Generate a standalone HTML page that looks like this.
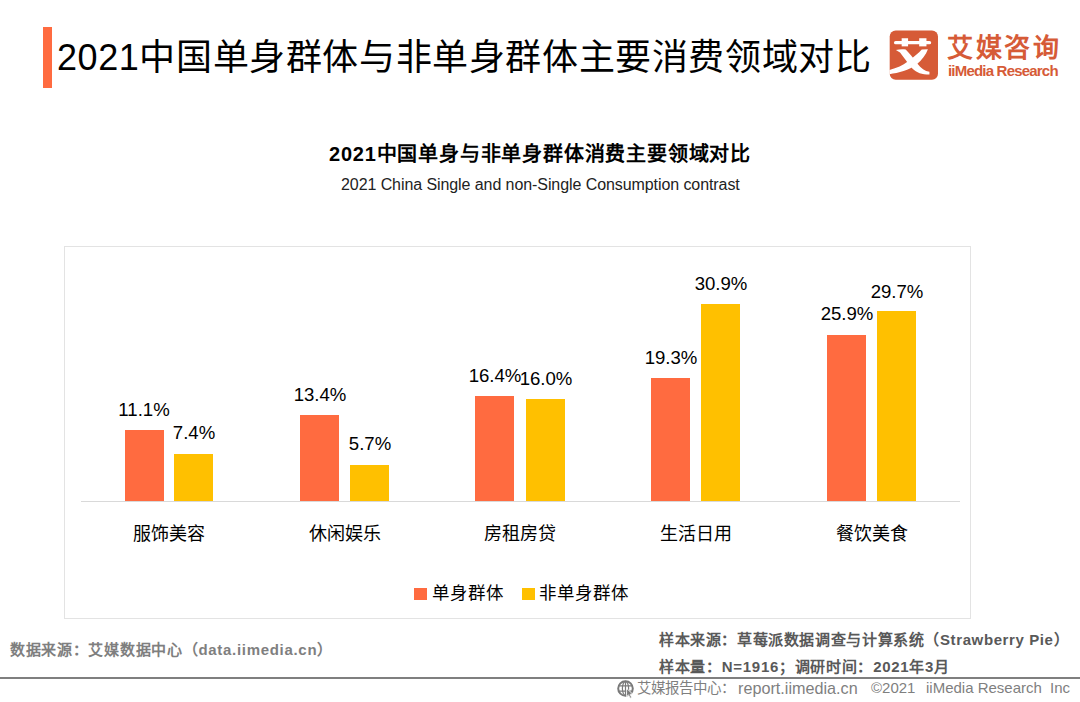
<!DOCTYPE html>
<html lang="zh-CN">
<head>
<meta charset="utf-8">
<style>
html,body{margin:0;padding:0;background:#fff;}
body{width:1080px;height:702px;position:relative;overflow:hidden;font-family:"Liberation Sans",sans-serif;color:#000;}
.a{position:absolute;white-space:nowrap;}
#bar{left:43px;top:27px;width:9px;height:61px;background:#ff6b40;}
#h1{left:57px;top:32px;font-size:36px;line-height:52px;color:#000;letter-spacing:0.6px;}
#logo{left:885px;top:25px;width:60px;height:60px;}
#lg1{left:947px;top:33px;font-size:26px;line-height:30px;color:#d65b37;font-weight:bold;letter-spacing:2.7px;}
#lg2{left:948px;top:61px;font-size:15px;line-height:20px;color:#d65b37;font-weight:bold;letter-spacing:-0.8px;}
#t1{left:329px;top:140px;font-size:20px;line-height:28px;font-weight:bold;color:#000;letter-spacing:0.8px;}
#t2{left:341px;top:174px;font-size:16px;line-height:22px;color:#222;letter-spacing:-0.08px;}
#box{left:64px;top:246px;width:905px;height:371px;border:1px solid #e3e3e3;}
#axis{left:81px;top:501px;width:879px;height:1px;background:#d9d9d9;}
.b{position:absolute;bottom:201px;width:39px;}
.o{background:#ff6b40;}
.y{background:#ffc000;}
.v{position:absolute;font-size:18.6px;line-height:20px;color:#000;text-align:center;width:80px;}
.c{position:absolute;top:522px;font-size:18px;line-height:24px;width:120px;text-align:center;color:#000;}
.lg{position:absolute;top:588px;width:13px;height:12px;}
.lt{position:absolute;top:581px;font-size:17.5px;line-height:24px;color:#000;letter-spacing:1.1px;}
#line{left:0;top:677px;width:1080px;height:2px;background:#7f7f7f;}
.f{position:absolute;font-weight:bold;font-size:15px;line-height:20px;}
.ft{font-size:15px;line-height:20px;color:#7f7f7f;}
</style>
</head>
<body>
<div class="a" id="bar"></div>
<div class="a" id="h1">2021中国单身群体与非单身群体主要消费领域对比</div>
<svg class="a" id="logo" viewBox="0 0 702 702">
<rect x="55" y="65" width="565" height="575" rx="70" fill="#d65b37"/>
<rect x="105" y="188" width="435" height="38" rx="19" fill="#fff"/>
<rect x="195" y="155" width="75" height="95" fill="#fff"/>
<rect x="400" y="155" width="85" height="95" fill="#fff"/>
<path fill="#fff" d="M128,293 C165,282 215,279 242,288 C285,328 330,392 378,450 C420,508 468,540 520,546 L520,580 C430,580 372,562 320,510 C270,452 222,382 176,322 C160,310 142,303 128,293 Z"/>
<path fill="#fff" d="M430,286 L502,284 C478,350 430,412 372,460 C280,530 160,560 52,576 L52,526 C140,502 210,472 262,430 C340,372 395,325 430,286 Z"/>
</svg>
<div class="a" id="lg1">艾媒咨询</div>
<div class="a" id="lg2">iiMedia Research</div>

<div class="a" id="t1">2021中国单身与非单身群体消费主要领域对比</div>
<div class="a" id="t2">2021 China Single and non-Single Consumption contrast</div>

<div class="a" id="box"></div>
<div class="a" id="axis"></div>

<!-- bars: baseline 501, 6.38px per % -->
<div class="b o" style="left:125px;height:71px;"></div>
<div class="b y" style="left:174px;height:47px;"></div>
<div class="b o" style="left:300px;height:86px;"></div>
<div class="b y" style="left:350px;height:36px;"></div>
<div class="b o" style="left:475px;height:105px;"></div>
<div class="b y" style="left:526px;height:102px;"></div>
<div class="b o" style="left:651px;height:123px;"></div>
<div class="b y" style="left:701px;height:197px;"></div>
<div class="b o" style="left:827px;height:166px;"></div>
<div class="b y" style="left:877px;height:190px;"></div>

<div class="v" style="left:104px;top:400px;">11.1%</div>
<div class="v" style="left:154px;top:423px;">7.4%</div>
<div class="v" style="left:280px;top:385px;">13.4%</div>
<div class="v" style="left:330px;top:434px;">5.7%</div>
<div class="v" style="left:455px;top:366px;">16.4%</div>
<div class="v" style="left:506px;top:369px;">16.0%</div>
<div class="v" style="left:631px;top:348px;">19.3%</div>
<div class="v" style="left:681px;top:274px;">30.9%</div>
<div class="v" style="left:807px;top:304px;">25.9%</div>
<div class="v" style="left:857px;top:282px;">29.7%</div>

<div class="c" style="left:109px;">服饰美容</div>
<div class="c" style="left:285px;">休闲娱乐</div>
<div class="c" style="left:460px;">房租房贷</div>
<div class="c" style="left:636px;">生活日用</div>
<div class="c" style="left:812px;">餐饮美食</div>

<div class="lg o" style="left:414px;"></div>
<div class="lt" style="left:432px;">单身群体</div>
<div class="lg y" style="left:522px;"></div>
<div class="lt" style="left:539px;">非单身群体</div>

<div class="f" style="left:10px;top:640px;color:#7f7f7f;letter-spacing:0.7px;">数据来源：艾媒数据中心（data.iimedia.cn）</div>
<div class="f" style="left:659px;top:630px;color:#595959;letter-spacing:0.61px;">样本来源：草莓派数据调查与计算系统（Strawberry Pie）</div>
<div class="f" style="left:659px;top:657px;color:#595959;letter-spacing:0.7px;">样本量：N=1916；调研时间：2021年3月</div>
<div class="a" id="line"></div>
<svg class="a" style="left:616px;top:679px;" width="20" height="20" viewBox="0 0 20 20">
<circle cx="9.5" cy="9.5" r="7.3" fill="#fff" stroke="#7a7a7a" stroke-width="2"/>
<ellipse cx="9.5" cy="9.5" rx="3.1" ry="7.2" fill="none" stroke="#7a7a7a" stroke-width="1.2"/>
<path d="M9.5,2.3 V16.7 M2.8,6.9 H16.2 M2.8,12.1 H16.2" stroke="#7a7a7a" stroke-width="1.2" fill="none"/>
<path d="M10.6,9.4 L10.6,17.6 L12.5,15.9 L14.1,19.2 L15.7,18.5 L14.1,15.3 L16.7,15.1 Z" fill="#7a7a7a" stroke="#fff" stroke-width="0.8"/>
</svg>
<div class="a ft" style="left:637px;top:678px;font-size:14.5px;">艾媒报告中心：</div>
<div class="a ft" id="fr" style="left:738px;top:678px;font-size:16.2px;">report.iimedia.cn</div>
<div class="a ft" id="fc" style="left:871px;top:678px;">©2021</div>
<div class="a ft" id="fi" style="left:926px;top:678px;">iiMedia Research</div>
<div class="a ft" id="fn" style="left:1050px;top:678px;">Inc</div>
</body>
</html>
